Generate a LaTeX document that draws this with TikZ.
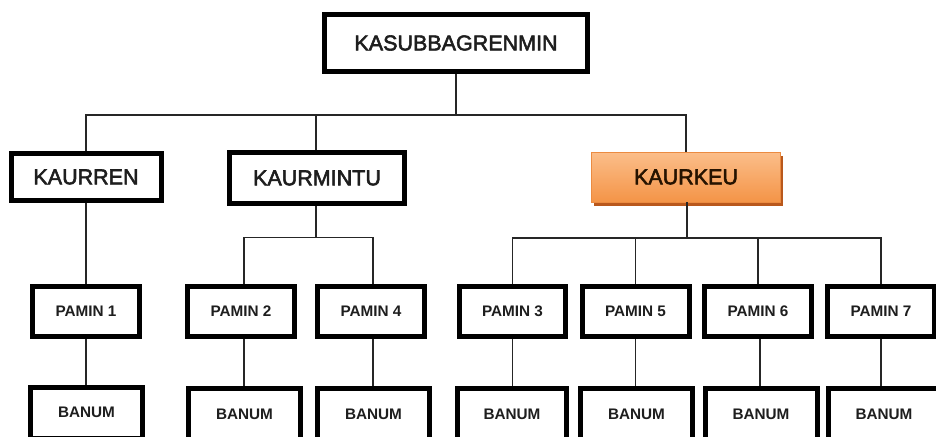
\documentclass[tikz,border=0pt]{standalone}
\usepackage{fontspec}
\setmainfont{Liberation Sans}
\newfontfamily\semibf[FakeBold=2.5]{Liberation Sans}
\usetikzlibrary{shadows}
\definecolor{orTop}{HTML}{FBBE8A}
\definecolor{orBot}{HTML}{F49447}
\definecolor{orShadow}{HTML}{B9581C}
\definecolor{txtc}{HTML}{1E1E1E}
\begin{document}
\begin{tikzpicture}[x=1pt,y=-1pt,
  box/.style={draw=black, line width=5pt, fill=white, inner sep=0pt, align=center, text=txtc},
  bigbox/.style={box, font=\semibf\fontsize{21.5}{24}\selectfont},
  smallbox/.style={box, font=\bfseries\fontsize{15.3}{17}\selectfont, minimum width=107pt, minimum height=50pt},
  banumbox/.style={box, font=\bfseries\fontsize{15.3}{17}\selectfont, minimum width=112pt, minimum height=51pt},
  orangebox/.style={inner sep=0pt, top color=orTop, bottom color=orBot, draw=orBot!85!orShadow, line width=0.6pt,
     general shadow={fill=orShadow, shadow xshift=2pt, shadow yshift=-3.5pt},
     font=\semibf\fontsize{21.5}{24}\selectfont, text=black!85!orange},
  conn/.style={draw=black!85, line width=1.8pt}]
\useasboundingbox (0,0) rectangle (936,436);
\clip (0,0) rectangle (936,436);

% level 0
\node[bigbox, minimum width=263pt, minimum height=57pt] (top) at (456,43) {KASUBBAGRENMIN};
% level 1
\node[bigbox, minimum width=150pt, minimum height=47pt] (kaurren) at (86,177) {KAURREN};
\node[bigbox, minimum width=175pt, minimum height=51pt] (kaurmintu) at (317,178) {KAURMINTU};
\node[orangebox, minimum width=189pt, minimum height=50pt] (kaurkeu) at (686,177) {KAURKEU};
% level 2
\node[smallbox] (p1) at (86,311.5) {PAMIN 1};
\node[smallbox] (p2) at (241,311) {PAMIN 2};
\node[smallbox] (p4) at (371,311) {PAMIN 4};
\node[smallbox, minimum width=106pt] (p3) at (512.5,311) {PAMIN 3};
\node[smallbox] (p5) at (635.5,311) {PAMIN 5};
\node[smallbox] (p6) at (758,311) {PAMIN 6};
\node[smallbox] (p7) at (881,311) {PAMIN 7};
% level 3
\node[banumbox] (b1) at (86.5,412.5) {BANUM};
\node[banumbox] (b2) at (244.5,414) {BANUM};
\node[banumbox] (b4) at (373.5,414) {BANUM};
\node[banumbox, minimum width=109pt] (b3) at (512,414) {BANUM};
\node[banumbox] (b5) at (636.5,414) {BANUM};
\node[banumbox] (b6) at (761,414) {BANUM};
\node[banumbox] (b7) at (884,414) {BANUM};

% junctions
\coordinate (j0) at (456,115);
\coordinate (j1) at (316,237.5);
\coordinate (j2) at (687,238);

% connectors level 0-1
\draw[conn] (top.south) -- (j0);
\draw[conn] (kaurren.north) -- (kaurren.north |- j0) -- (kaurkeu.north |- j0) -- (kaurkeu.north);
\draw[conn] (j1 |- j0) -- (j1 |- kaurmintu.north);
% KAURREN -> PAMIN 1
\draw[conn] (kaurren.south) -- (p1.north);
% KAURMINTU
\draw[conn] (kaurmintu.south -| j1) -- (j1);
\draw[conn] ([xshift=3pt]p2.north) -- ([xshift=3pt]p2.north |- j1) -- ([xshift=2pt]p4.north |- j1) -- ([xshift=2pt]p4.north);
% KAURKEU
\draw[conn] (kaurkeu.south -| j2) -- (j2);
\draw[conn] (p3.north) -- (p3.north |- j2) -- (p7.north |- j2) -- (p7.north);
\draw[conn] (p5.north) -- (p5.north |- j2);
\draw[conn] (p6.north) -- (p6.north |- j2);
% PAMIN -> BANUM
\draw[conn] (p1.south) -- (p1.south |- b1.north);
\draw[conn] ([xshift=3pt]p2.south) -- ([xshift=3pt]p2.south |- b2.north);
\draw[conn] ([xshift=2pt]p4.south) -- ([xshift=2pt]p4.south |- b4.north);
\draw[conn] (p3.south) -- (p3.south |- b3.north);
\draw[conn] (p5.south) -- (p5.south |- b5.north);
\draw[conn] ([xshift=2pt]p6.south) -- ([xshift=2pt]p6.south |- b6.north);
\draw[conn] (p7.south) -- (p7.south |- b7.north);
\end{tikzpicture}
\end{document}
